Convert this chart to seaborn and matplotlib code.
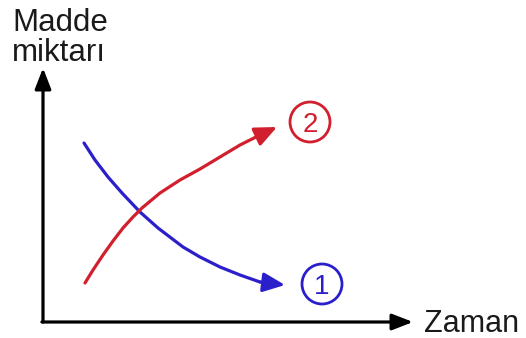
import matplotlib
matplotlib.use("Agg")
import matplotlib.pyplot as plt
import seaborn as sns
import pandas as pd
from matplotlib.patches import Circle

# Data (time, amount), origin at the axes corner
blue_t = [41, 52, 65, 79, 97, 115, 140, 157, 177, 197, 217]
blue_v = [179, 162, 145, 129, 110, 94, 75, 65, 55, 47, 40]
blue_tip = (242, 37)

red_t = [42, 50, 60, 70, 80, 90, 99, 117, 137, 157, 177, 197, 217]
red_v = [39, 52, 67, 81, 94, 105, 114, 129, 142, 153, 165, 177, 187]
red_tip = (234, 195)

labels = ["1", "2"]
label_pos = [(279, 38), (267, 200)]

x_label = "Zaman"
y_label = "Madde\nmiktarı"

RED = "#d21f2e"
BLUE = "#2b1fcb"

sns.set_theme(style="white")
plt.rcParams["font.family"] = ["Liberation Sans", "DejaVu Sans"]

fig = plt.figure(figsize=(5.26, 3.38), dpi=100)
ax = fig.add_axes([0, 0, 1, 1])
ax.set_xlim(-43, 483)
ax.set_ylim(-16, 322)
ax.axis("off")

df = pd.concat([
    pd.DataFrame({"t": blue_t, "v": blue_v, "s": "1"}),
    pd.DataFrame({"t": red_t, "v": red_v, "s": "2"}),
])
sns.lineplot(data=df, x="t", y="v", hue="s", palette={"1": BLUE, "2": RED},
             sort=False, estimator=None, lw=2.3, legend=False, ax=ax)
for line in ax.get_lines():
    line.set_solid_joinstyle("round")
    line.set_solid_capstyle("round")

for t, v, tip, c in [(blue_t, blue_v, blue_tip, BLUE), (red_t, red_v, red_tip, RED)]:
    ax.annotate("", xy=tip, xytext=(t[-1], v[-1]),
                arrowprops=dict(arrowstyle="-|>,head_length=0.95,head_width=0.42",
                                color=c, lw=2.3, shrinkA=0, shrinkB=0,
                                mutation_scale=14))

# axes arrows
ax.annotate("", xy=(0, 254), xytext=(0, 0),
            arrowprops=dict(arrowstyle="-|>,head_length=0.9,head_width=0.35",
                            color="black", lw=2.3, shrinkA=0, shrinkB=0,
                            mutation_scale=14))
ax.annotate("", xy=(370, 0), xytext=(-1.1, 0),
            arrowprops=dict(arrowstyle="-|>,head_length=0.9,head_width=0.35",
                            color="black", lw=2.3, shrinkA=0, shrinkB=0,
                            mutation_scale=14))

ax.text(-31, 314, y_label, ha="left", va="top", fontsize=22.5,
        linespacing=1.0, color="#1a1a1a")
ax.text(381, -10, x_label, ha="left", va="baseline", fontsize=22,
        color="#1a1a1a")

for lab, (x, y), c in zip(labels, label_pos, [BLUE, RED]):
    ax.add_patch(Circle((x, y), 20, fill=False, ec=c, lw=2.0))
    ax.text(x, y, lab, ha="center", va="center_baseline", fontsize=20, color=c)

fig.savefig("out.png", dpi=100, facecolor="white")
